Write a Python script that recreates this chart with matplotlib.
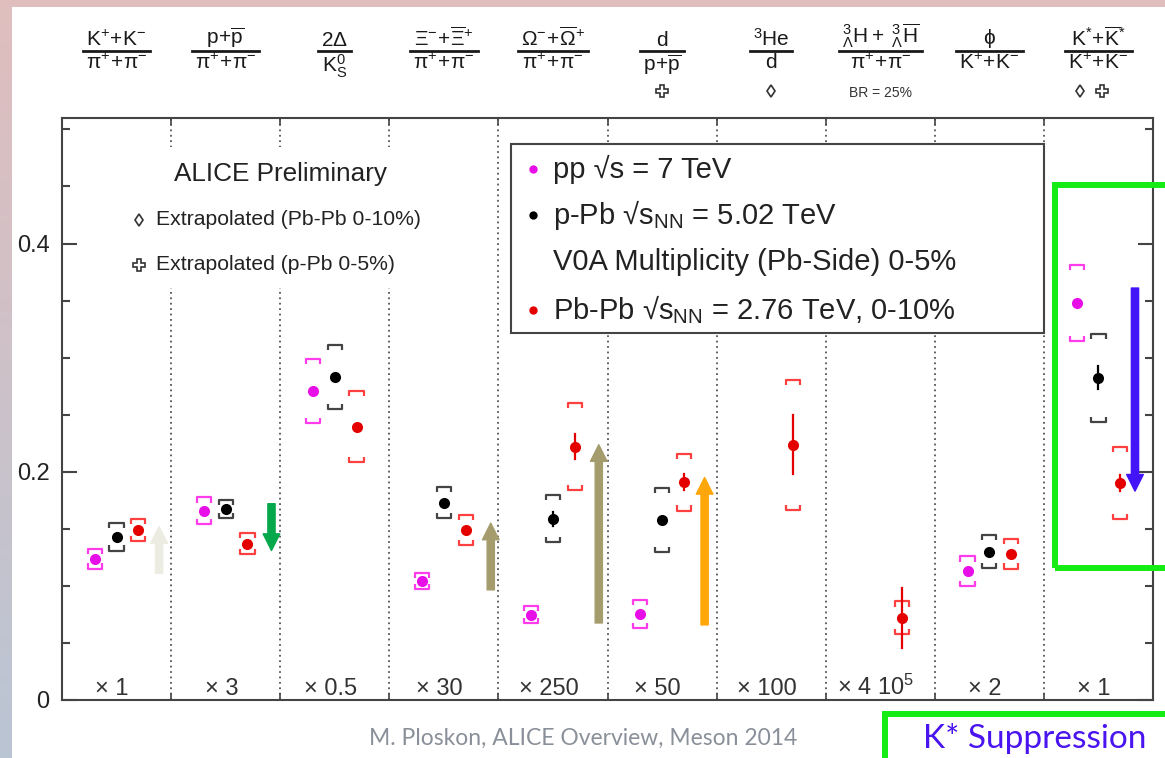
import numpy as np
import matplotlib
matplotlib.use("Agg")
import matplotlib.pyplot as plt
from matplotlib.patches import Rectangle
from matplotlib.lines import Line2D
from matplotlib.ticker import MultipleLocator, FixedLocator
from matplotlib.transforms import blended_transform_factory, IdentityTransform

plt.rcParams['font.family'] = ['Liberation Sans', 'DejaVu Sans']
plt.rcParams['mathtext.fontset'] = 'custom'
plt.rcParams['mathtext.rm'] = 'Liberation Sans'
plt.rcParams['mathtext.it'] = 'Liberation Sans:italic'
plt.rcParams['mathtext.bf'] = 'Liberation Sans:bold'
plt.rcParams['mathtext.sf'] = 'Liberation Sans'

# ---------------- data ----------------
nan = np.nan
num_labels = [r"$\mathrm{K^{+}\!+\!K^{-}}$", r"$\mathrm{p\!+\!\overline{p}}$", r"$\mathrm{2Δ}$",
              r"$\mathrm{Ξ^{-}\!+\!\overline{Ξ}^{+}}$", r"$\mathrm{Ω^{-}\!+\!\overline{Ω}^{+}}$",
              r"$\mathrm{d}$", r"$\mathrm{{}^{3}He}$", r"$\mathrm{{}^{3}_{Λ}H+\;{}^{3}_{Λ}\overline{H}}$",
              r"$\mathrm{ϕ}$", r"$\mathrm{K^{*}\!+\!\overline{K}^{*}}$"]
den_labels = [r"$\mathrm{π^{+}\!+\!π^{-}}$", r"$\mathrm{π^{+}\!+\!π^{-}}$", r"$\mathrm{K^{0}_{S}}$",
              r"$\mathrm{π^{+}\!+\!π^{-}}$", r"$\mathrm{π^{+}\!+\!π^{-}}$", r"$\mathrm{p\!+\!\overline{p}}$",
              r"$\mathrm{d}$", r"$\mathrm{π^{+}\!+\!π^{-}}$", r"$\mathrm{K^{+}\!+\!K^{-}}$",
              r"$\mathrm{K^{+}\!+\!K^{-}}$"]
multipliers = ["× 1", "× 3", "× 0.5", "× 30", "× 250", "× 50", "× 100", r"× 4 10$^{5}$", "× 2", "× 1"]

pp_val  = [0.1237, 0.166, 0.271, 0.1044, 0.0746, 0.0754, nan, nan, 0.113, 0.348]
pp_sys  = [0.0085, 0.0115, 0.028, 0.007, 0.0075, 0.012, nan, nan, 0.0128, 0.0335]
pp_stat = [0.002, 0.002, 0.002, 0.002, 0.002, 0.002, nan, nan, 0.002, 0.002]

ppb_val  = [0.143, 0.1675, 0.283, 0.1728, 0.1588, 0.158, nan, nan, 0.130, 0.2825]
ppb_sys  = [0.012, 0.008, 0.028, 0.0136, 0.0206, 0.028, nan, nan, 0.0145, 0.0386]
ppb_stat = [0.002, 0.002, 0.002, 0.002, 0.006, 0.002, nan, nan, 0.002, 0.010]

pbpb_val  = [0.149, 0.137, 0.2395, 0.149, 0.222, 0.191, 0.2237, 0.072, 0.128, 0.190]
pbpb_sys  = [0.0097, 0.0092, 0.031, 0.0135, 0.038, 0.025, 0.057, 0.0144, 0.0128, 0.0315]
pbpb_stat = [0.002, 0.002, 0.002, 0.002, 0.011, 0.007, 0.026, 0.026, 0.002, 0.007]

# arrows: category index, start value, end value, colour
arrow_cat   = [0, 1, 3, 4, 5, 9]
arrow_from  = [0.111, 0.172, 0.0965, 0.0675, 0.0658, 0.361]
arrow_to    = [0.152, 0.131, 0.155, 0.2237, 0.195, 0.183]
arrow_off   = [0.39, 0.42, 0.43, 0.42, 0.39, 0.335]
arrow_color = ["#ECECE2", "#05A84A", "#A59C6E", "#A59C6E", "#FFA608", "#4414F8"]

# ---------------- figure ----------------
W, H = 1165, 758
fig = plt.figure(figsize=(W / 100, H / 100), dpi=100)
fig.patch.set_facecolor("white")

# slide background (gradient border)
bg = fig.add_axes([0, 0, 1, 1], zorder=-10)
bg.axis("off")
t = np.linspace(0, 1, 200)[:, None]
top_col = np.array([224, 190, 190]) / 255
bot_col = np.array([186, 197, 212]) / 255
img = (top_col * (1 - t) + bot_col * t)[:, None, :].repeat(2, axis=1)
bg.imshow(img, aspect="auto", extent=[0, 1, 0, 1], origin="upper")
bg.add_patch(Rectangle((12 / W, 0), 1, 1 - 7 / H, color="white", lw=0))
bg.set_xlim(0, 1)
bg.set_ylim(0, 1)

ax = fig.add_axes([62 / W, 1 - 700 / H, (1153 - 62) / W, (700 - 118) / H])
ax.set_xlim(0, 10)
ax.set_ylim(0, 0.51)
for s in ax.spines.values():
    s.set_color("#444444")
    s.set_linewidth(1.5)
    s.set_zorder(8)

ax.yaxis.set_major_locator(FixedLocator([0, 0.2, 0.4]))
ax.set_yticklabels(["0", "0.2", "0.4"])
ax.yaxis.set_minor_locator(MultipleLocator(0.05))
ax.tick_params(axis="y", which="major", direction="in", length=11, width=1.5,
               left=True, right=True, labelsize=17, pad=9, color="#444444", labelcolor="#222222")
ax.tick_params(axis="y", which="minor", direction="in", length=6, width=1.5,
               left=True, right=True, color="#444444")
dividers = np.arange(1, 10)
ax.set_xticks(dividers)
ax.set_xticklabels([])
ax.tick_params(axis="x", which="major", direction="in", length=5, width=1.2,
               top=True, bottom=True, color="#444444")

for d in dividers:
    ax.axvline(d, color="#555555", ls=(0, (1, 2)), lw=1.3, zorder=1)

# white cover behind ALICE Preliminary block
ax.add_patch(Rectangle((0.58, 0.361), 2.84, 0.124, facecolor="white", edgecolor="none", zorder=2))
# legend box
ax.add_patch(Rectangle((4.115, 0.322), 9.0 - 4.115, 0.4868 - 0.322, facecolor="white",
                       edgecolor="#444444", lw=1.5, zorder=3))

centers = np.arange(10) + 0.5
bw = 0.13
leg = 0.0045


def draw_series(vals, sys, stat, off, mcol, bcol):
    for c, v, s, st in zip(centers, vals, sys, stat):
        if np.isnan(v):
            continue
        x = c + off
        hi, lo = v + s, v - s
        ax.plot([x - bw / 2, x - bw / 2, x + bw / 2, x + bw / 2],
                [hi - leg, hi, hi, hi - leg], color=bcol, lw=1.6, zorder=5, solid_capstyle="butt")
        ax.plot([x - bw / 2, x - bw / 2, x + bw / 2, x + bw / 2],
                [lo + leg, lo, lo, lo + leg], color=bcol, lw=1.6, zorder=5, solid_capstyle="butt")
        ax.plot([x, x], [v - st, v + st], color=mcol, lw=1.6, zorder=6)
        ax.plot([x], [v], "o", color=mcol, ms=8, mew=0, zorder=7)


draw_series(pp_val, pp_sys, pp_stat, -0.2, "#E80EE8", "#FF3CEB")
draw_series(ppb_val, ppb_sys, ppb_stat, 0.0, "#000000", "#444444")
draw_series(pbpb_val, pbpb_sys, pbpb_stat, 0.2, "#E50000", "#FF4040")

for ci, a0, a1, off, col in zip(arrow_cat, arrow_from, arrow_to, arrow_off, arrow_color):
    ax.annotate("", xy=(centers[ci] + off, a1), xytext=(centers[ci] + off, a0),
                arrowprops=dict(arrowstyle="simple,head_length=1.2,head_width=1.2,tail_width=0.52",
                                color=col, shrinkA=0, shrinkB=0, mutation_scale=10), zorder=6)

# multipliers at bottom
for c, m in zip(centers, multipliers):
    ax.text(c - 0.04, 0.0045, m, ha="center", va="baseline", fontsize=17, color="#333333", zorder=9)

# ALICE block
ax.text(2.0, 0.461, "ALICE Preliminary", ha="center", va="center", fontsize=18.8, color="#222222", zorder=9)
ax.plot([0.706], [0.421], marker="d", ms=6, mfc="none", mec="#333333", mew=1.2, zorder=9)
ax.plot([0.706], [0.3816], marker="P", ms=9, mfc="none", mec="#333333", mew=1.2, zorder=9)
ax.text(0.862, 0.421, "Extrapolated (Pb-Pb 0-10%)", ha="left", va="center", fontsize=15.2, color="#222222", zorder=9)
ax.text(0.862, 0.3816, "Extrapolated (p-Pb 0-5%)", ha="left", va="center", fontsize=15.2, color="#222222", zorder=9)

# legend box content
lx, tx = 4.32, 4.50
ax.plot([lx], [0.465], "o", color="#E80EE8", ms=6, mew=0, zorder=9)
ax.plot([lx], [0.4254], "o", color="#000000", ms=6, mew=0, zorder=9)
ax.plot([lx], [0.342], "o", color="#E50000", ms=6, mew=0, zorder=9)
ax.text(tx, 0.465, "pp √s = 7 TeV", ha="left", va="center", fontsize=21, color="#222222", zorder=9)
ax.text(tx, 0.4254, r"p-Pb √s$_{\mathrm{NN}}$ = 5.02 TeV", ha="left", va="center", fontsize=21, color="#222222", zorder=9)
ax.text(tx, 0.384, "V0A Multiplicity (Pb-Side) 0-5%", ha="left", va="center", fontsize=21, color="#222222", zorder=9)
ax.text(tx, 0.342, r"Pb-Pb √s$_{\mathrm{NN}}$ = 2.76 TeV, 0-10%", ha="left", va="center", fontsize=21, color="#222222", zorder=9)

# header fractions
htr = blended_transform_factory(ax.transData, fig.transFigure)
fy = lambda py: 1 - py / H
nums, dens = [], []
for c, n, d in zip(centers, num_labels, den_labels):
    nums.append(fig.text(c, fy(50), n, transform=htr, ha="center", va="bottom", fontsize=15, color="#1a1a1a"))
    dens.append(fig.text(c, fy(53), d, transform=htr, ha="center", va="top", fontsize=15, color="#1a1a1a"))
fig.canvas.draw()
rend = fig.canvas.get_renderer()
for c, tn, td in zip(centers, nums, dens):
    wmax = max(tn.get_window_extent(rend).width, td.get_window_extent(rend).width) + 6
    xc = ax.transData.transform((c, 0))[0]
    fig.add_artist(Line2D([xc - wmax / 2, xc + wmax / 2], [H - 51, H - 51], transform=IdentityTransform(),
                          color="#1a1a1a", lw=2.0))

for xx, mk, ms in [(centers[5], "P", 9), (centers[6], "d", 6), (centers[9] - 0.17, "d", 6), (centers[9] + 0.03, "P", 9)]:
    ln = Line2D([xx], [fy(91)], transform=htr, marker=mk, ms=ms, mfc="none", mec="#333333", mew=1.2, ls="none")
    fig.add_artist(ln)
fig.text(centers[7], fy(93), "BR = 25%", transform=htr, ha="center", va="center", fontsize=10, color="#333333")

# slide annotations
fig.add_artist(Rectangle((1055 / W, 1 - 568 / H), 200 / W, (568 - 185) / H, transform=fig.transFigure,
                         fill=False, ec="#14EC14", lw=4.3, clip_on=False))
fig.add_artist(Rectangle((885 / W, 1 - 800 / H), 400 / W, (800 - 714) / H, transform=fig.transFigure,
                         fill=False, ec="#14EC14", lw=4.3, clip_on=False))
fig.text(1035 / W, fy(748), "K* Suppression", ha="center", va="baseline", fontsize=24,
         family="Lato", color="#4A14F0")
fig.text(583 / W, fy(745), "M. Ploskon, ALICE Overview, Meson 2014", ha="center", va="baseline",
         fontsize=16.5, family="Lato", color="#8A9099")

fig.savefig("out.png", dpi=100)
